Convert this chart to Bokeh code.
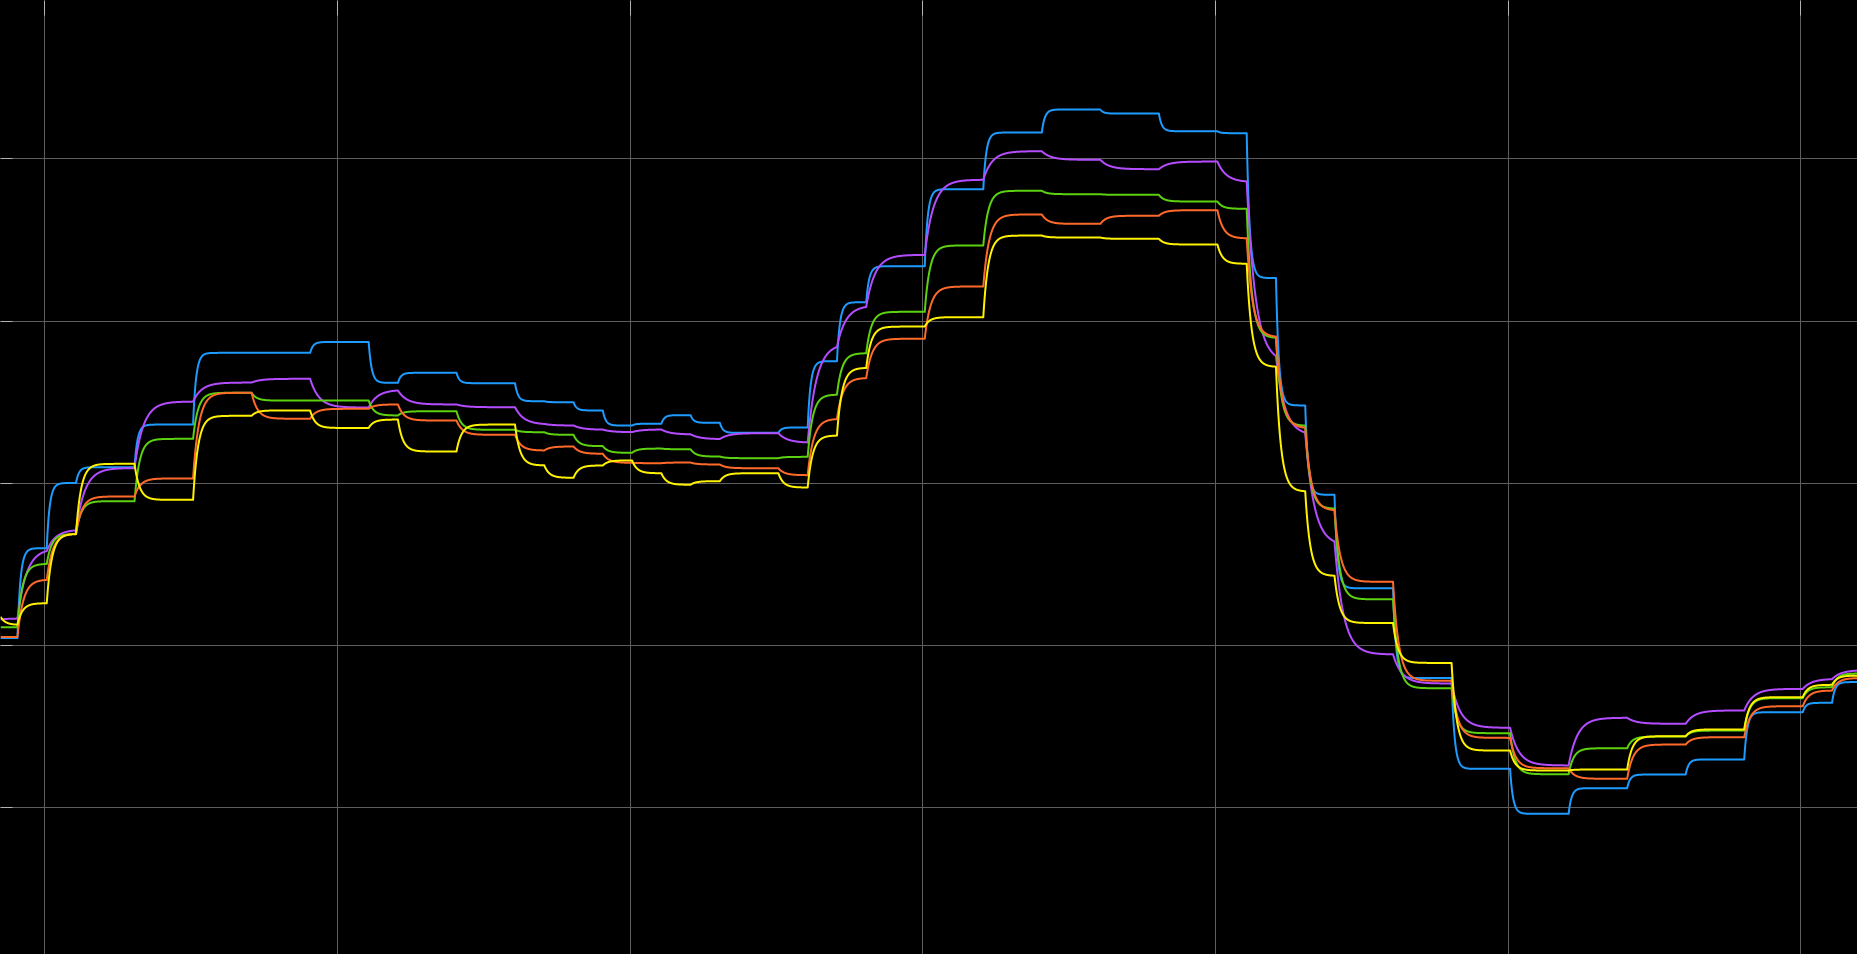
import numpy as np
from bokeh.plotting import figure
from bokeh.models import Range1d, FixedTicker
from bokeh.embed import file_html
from bokeh.resources import INLINE

# ---------------- data (levels per period) ----------------
periods = list(range(-2, 62))
grid_x = [0, 10, 20, 30, 40, 50, 60]
grid_y = [10, 20, 30, 40, 50]

blue = [20.47, 26.00,
        30.02, 30.99, 30.99, 33.62, 33.62, 38.04, 38.04, 38.04, 38.04, 38.71,
        38.71, 36.19, 36.81, 36.81, 36.17, 36.17, 35.06, 35.00, 34.49, 33.56,
        33.67, 34.20, 33.73, 33.11, 33.11, 33.44, 37.53, 41.16, 43.38, 43.38,
        48.13, 48.13, 51.62, 51.62, 53.04, 53.04, 52.79, 52.79, 51.70, 51.70,
        51.58, 42.65, 34.80, 29.29, 23.53, 23.53, 18.00, 18.00, 12.40, 12.40,
        9.63, 9.63, 11.21, 11.21, 12.05, 12.05, 12.98, 12.98, 15.89, 15.89,
        16.47, 17.75]
purple = [21.67, 25.98,
          27.15, 30.94, 30.94, 35.04, 35.04, 36.21, 36.21, 36.44, 36.44, 34.67,
          34.67, 35.76, 34.86, 34.86, 34.69, 34.69, 33.62, 33.56, 33.30, 33.15,
          33.32, 33.01, 32.72, 33.09, 33.09, 32.50, 38.62, 40.96, 44.08, 44.08,
          48.71, 48.71, 50.47, 50.47, 49.94, 49.94, 49.36, 49.36, 49.83, 49.83,
          48.56, 37.45, 32.95, 26.17, 19.45, 19.45, 17.66, 17.66, 14.93, 14.93,
          12.61, 12.61, 15.55, 15.55, 15.18, 15.18, 16.00, 16.00, 17.33, 17.33,
          17.95, 18.49]
green = [21.13, 25.04,
         26.88, 28.90, 28.90, 32.74, 32.74, 35.58, 35.58, 35.10, 35.10, 35.10,
         35.10, 34.18, 34.44, 34.44, 33.30, 33.30, 33.15, 32.99, 32.29, 31.88,
         32.14, 32.10, 31.65, 31.55, 31.55, 31.63, 35.47, 38.02, 40.57, 40.57,
         44.66, 44.66, 48.03, 48.03, 47.82, 47.82, 47.78, 47.78, 47.37, 47.37,
         46.92, 38.95, 33.54, 28.43, 22.85, 22.85, 17.37, 17.37, 14.60, 14.60,
         12.07, 12.07, 13.67, 13.67, 14.39, 14.39, 14.76, 14.76, 16.76, 16.76,
         17.43, 18.28]
orange = [20.53, 24.07,
          26.91, 29.19, 29.19, 30.30, 30.30, 35.58, 35.58, 33.98, 33.98, 34.59,
          34.59, 34.86, 33.87, 33.87, 32.99, 32.99, 32.02, 32.27, 31.82, 31.26,
          31.24, 31.28, 31.16, 30.93, 30.93, 30.50, 33.98, 36.50, 38.91, 38.91,
          42.13, 42.13, 46.57, 46.57, 45.99, 45.99, 46.49, 46.49, 46.83, 46.83,
          45.09, 39.00, 33.39, 28.31, 23.93, 23.93, 17.83, 17.83, 14.31, 14.31,
          12.44, 12.44, 11.79, 11.79, 13.90, 13.90, 14.35, 14.35, 16.26, 16.26,
          17.23, 18.00]
yellow = [21.27, 22.61,
          26.88, 31.20, 31.20, 28.98, 28.98, 34.16, 34.16, 34.49, 34.49, 33.41,
          33.41, 33.93, 31.96, 31.96, 33.62, 33.62, 31.10, 30.34, 31.10, 31.41,
          30.62, 29.91, 30.13, 30.62, 30.62, 29.74, 32.95, 37.12, 39.66, 39.66,
          40.24, 40.24, 45.27, 45.27, 45.15, 45.15, 45.07, 45.07, 44.72, 44.72,
          43.53, 37.17, 29.49, 24.29, 21.39, 21.39, 18.93, 18.93, 13.53, 13.53,
          12.30, 12.30, 12.36, 12.36, 14.41, 14.41, 14.83, 14.83, 16.82, 16.82,
          17.58, 18.15]
# value of each series at the left edge of the view
start_values = [20.47, 21.61, 21.13, 20.53, 21.79]

series_levels = [blue, purple, green, orange, yellow]
series_colors = ["#1e9bff", "#b44cff", "#5cd10f", "#ff6a2a", "#fff200"]
series_lag = [0.10, 0.30, 0.17, 0.20, 0.17]   # response time (periods) of each line

# ---------------- figure ----------------
W, H = 1857, 954
x0, x1 = -1.514, 61.936
y0, y1 = 0.959, 59.757

p = figure(width=W, height=H, output_backend="svg", toolbar_location=None,
           x_range=Range1d(x0, x1), y_range=Range1d(y0, y1),
           x_axis_location="above", y_axis_location="left",
           background_fill_color="black", border_fill_color="black",
           outline_line_color=None, min_border=0)

for ax, ticks, tin in ((p.xaxis[0], grid_x, 15), (p.yaxis[0], grid_y, 12)):
    ax.ticker = FixedTicker(ticks=ticks)
    ax.major_tick_in = tin
    ax.major_tick_out = 0
    ax.minor_tick_in = 0
    ax.minor_tick_out = 0
    ax.major_tick_line_color = "#b4b4b4"
    ax.major_tick_line_width = 1
    ax.axis_line_color = None
    ax.major_label_text_font_size = "0px"
    ax.major_label_standoff = 0

p.xgrid.ticker = FixedTicker(ticks=grid_x)
p.ygrid.ticker = FixedTicker(ticks=grid_y)
p.grid.grid_line_color = "#5e5e5e"
p.grid.grid_line_width = 1

try:
    from bokeh.models import GlobalInlineStyleSheet
    p.stylesheets = [GlobalInlineStyleSheet(css="html, body { background: #000000; }")]
except Exception:
    pass

# ---------------- lines: each level is approached with a first-order lag ----------------
dt = 0.005
step_offset = 0.07
xs = np.arange(x0, x1 + dt, dt)
idx = np.clip(np.floor(xs - step_offset).astype(int) - periods[0], 0, len(periods) - 1)

for levels, col, lag, sv in zip(series_levels, series_colors, series_lag, start_values):
    tgt = np.asarray(levels, dtype=float)[idx]
    a = 1.0 - np.exp(-dt / lag)
    ys = np.empty_like(xs)
    y = sv
    for i, t in enumerate(tgt):
        y += (t - y) * a
        ys[i] = y
    p.line(xs, ys, line_color=col, line_width=2, line_join="round")

open("out.html", "w").write(file_html(p, INLINE))
